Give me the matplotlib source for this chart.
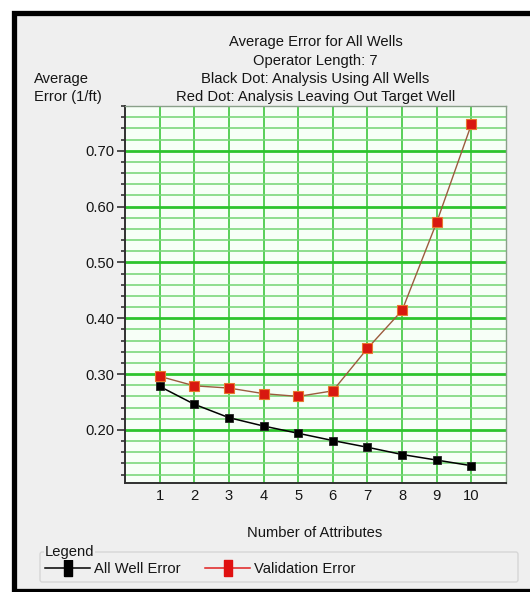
import matplotlib
matplotlib.use('Agg')
import matplotlib.pyplot as plt
from matplotlib.patches import Rectangle, FancyBboxPatch
from matplotlib.lines import Line2D
from matplotlib.ticker import MultipleLocator, FixedLocator

# data
attributes = [1, 2, 3, 4, 5, 6, 7, 8, 9, 10]
all_well_error = [0.278, 0.246, 0.222, 0.207, 0.194, 0.181, 0.169, 0.156, 0.146, 0.136]
validation_error = [0.296, 0.279, 0.275, 0.265, 0.260, 0.270, 0.346, 0.414, 0.572, 0.747]
y_ticks = [0.20, 0.30, 0.40, 0.50, 0.60, 0.70]
title_lines = ['Average Error for All Wells',
               'Operator Length: 7',
               'Black Dot: Analysis Using All Wells',
               'Red Dot: Analysis Leaving Out Target Well']
ylabel_lines = ['Average', 'Error (1/ft)']
legend_labels = ['All Well Error', 'Validation Error']

W, H = 530, 592
FS = 10.6
TXT = '#151515'
plt.rcParams['font.family'] = ['Liberation Sans', 'DejaVu Sans']
plt.rcParams['font.size'] = FS


def fx(x):
    return x / W


def fy(y):
    return 1 - y / H


fig = plt.figure(figsize=(W / 100, H / 100), dpi=100, facecolor='white')

# window panel with thick black frame (right edge runs off the picture)
frame = Rectangle((fx(14), fy(591)), 1.2, fy(13) - fy(591), transform=fig.transFigure,
                  facecolor='#efefef', edgecolor='black', lw=3.8, zorder=-10)
fig.add_artist(frame)

ax = fig.add_axes([fx(125), fy(483), fx(506) - fx(125), fy(106) - fy(483)])
ax.set_facecolor('#f7fff7')

ax.plot(attributes, all_well_error, color='black', lw=1.1, marker='s', ms=6.3,
        mfc='black', mec='#222222', mew=0.6, zorder=5)
ax.plot(attributes, validation_error, color='#9c5b3e', lw=1.0, marker='s', ms=6.6,
        mfc='#d81810', mec='#e8782e', mew=0.8, zorder=6)

ax.set_xlim(0, 11)
ax.set_ylim(0.105, 0.78)
ax.xaxis.set_major_locator(FixedLocator(attributes))
ax.yaxis.set_major_locator(FixedLocator(y_ticks))
ax.yaxis.set_minor_locator(MultipleLocator(0.02))
ax.set_yticklabels(['%.2f' % v for v in y_ticks])

ax.grid(axis='y', which='minor', color='#7cd87c', lw=1.2, zorder=1)
ax.grid(axis='y', which='major', color='#2ec42e', lw=2.0, zorder=1)
ax.grid(axis='x', which='major', color='#4ccc4c', lw=1.3, zorder=1)
ax.set_axisbelow(True)

ax.tick_params(axis='x', length=0, pad=4, labelsize=FS, labelcolor=TXT)
ax.tick_params(axis='y', which='major', length=6, width=1.2, pad=1.5, color='#333333',
               labelsize=FS, labelcolor=TXT)
ax.tick_params(axis='y', which='minor', length=3, width=1.2, color='#333333')

for s in ['left', 'bottom']:
    ax.spines[s].set_color('#303030')
    ax.spines[s].set_linewidth(1.4)
for s in ['top', 'right']:
    ax.spines[s].set_color('#8aa08a')
    ax.spines[s].set_linewidth(1.0)

# titles and axis labels
for line, base in zip(title_lines, [46, 64.5, 82.5, 100.5]):
    fig.text(fx(315.5), fy(base), line, ha='center', va='baseline', color=TXT)
for line, base in zip(ylabel_lines, [83, 101]):
    fig.text(fx(34), fy(base), line, ha='left', va='baseline', color=TXT)
fig.text(fx(315), fy(537), 'Number of Attributes', ha='center', va='baseline', color=TXT)

# legend group box
box = FancyBboxPatch((fx(40), fy(582)), fx(518) - fx(40), fy(552) - fy(582),
                     boxstyle='round,pad=0,rounding_size=0.004', transform=fig.transFigure,
                     facecolor='none', edgecolor='#d6d6d6', lw=1.0)
fig.add_artist(box)
fig.text(fx(45), fy(556), 'Legend', ha='left', va='baseline', color=TXT,
         bbox=dict(facecolor='#efefef', edgecolor='none', pad=0.5))

tall = [(-0.5, -1), (0.5, -1), (0.5, 1), (-0.5, 1), (-0.5, -1)]
entries = [(45, 90, 67.7, 'black', 'black', legend_labels[0], 94),
           (205, 250, 228, '#e02020', '#e01010', legend_labels[1], 253.5)]
for x0, x1, xm, lc, mc, lab, tx in entries:
    fig.add_artist(Line2D([fx(x0), fx(x1)], [fy(568), fy(568)], color=lc, lw=1.1,
                          transform=fig.transFigure))
    fig.add_artist(Line2D([fx(xm)], [fy(568)], marker=tall, ms=11, mfc=mc, mec=mc,
                          ls='none', transform=fig.transFigure))
    fig.text(fx(tx), fy(573), lab, ha='left', va='baseline', color=TXT)

plt.savefig('out.png', dpi=100, facecolor=fig.get_facecolor())
